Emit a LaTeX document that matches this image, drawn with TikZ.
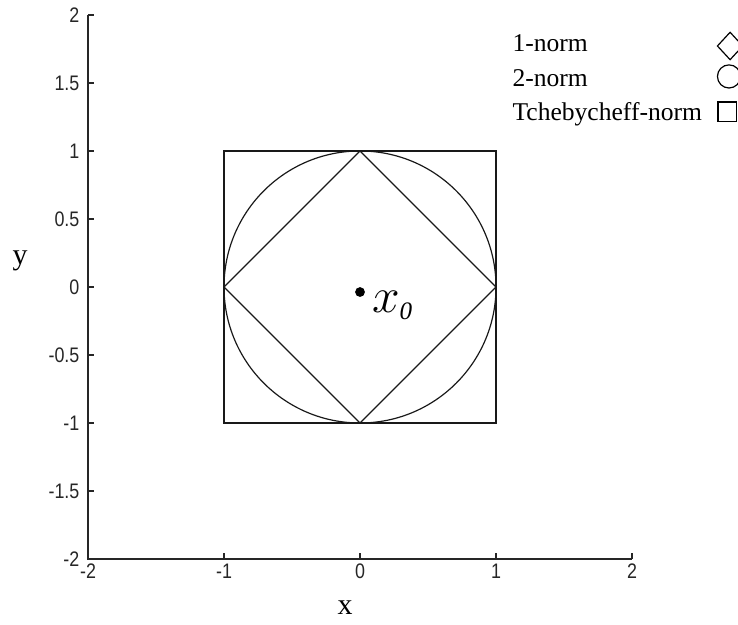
\documentclass[tikz,border=0pt]{standalone}
\usepackage{fontspec}
\setmainfont{Liberation Serif}
\newfontfamily\ticksans[FakeStretch=0.85]{Liberation Sans}
\usetikzlibrary{positioning, shapes.geometric}

\tikzset{
  axisline/.style={line width=0.8pt, black!85},
  normline/.style={line width=0.5pt, black!90},
  ticklab/.style={font=\ticksans\fontsize{8.8}{9}\selectfont, inner sep=0pt, text=black!85},
  legtext/.style={font=\fontsize{10.7}{12}\selectfont, anchor=base west, inner sep=0pt},
  legmark/.style={draw, line width=0.5pt, inner sep=0pt},
  axlab/.style={font=\fontsize{12.5}{14}\selectfont, inner sep=0pt}
}

\begin{document}
\begin{tikzpicture}[x=2cm, y=2cm]
    \useasboundingbox (-2.647,-2.478) rectangle (2.779,2.110);

    % axes
    \draw[axisline] (-2,2) -- (-2,-2) -- (2,-2);
    \foreach \v in {-1,0,1,2} {
      \draw[axisline] (\v,-2) -- (\v,-1.956);
    }
    \foreach \v in {-1.5,-1,-0.5,0,0.5,1,1.5,2} {
      \draw[axisline] (-2,\v) -- (-1.956,\v);
    }
    \foreach \v [count=\k] in {-2,-1,0,1,2}
      \node[ticklab] (xt\k) at (\v,-2.092) {\v};
    \foreach \v [count=\k] in {-2,-1.5,-1,-0.5,0,0.5,1,1.5,2}
      \node[ticklab, anchor=east] (yt\k) at (-2.06,\v) {\v};

    \node[axlab] (ylab) at (-2.5,0.19) {y};
    \node[axlab] (xlab) at (-0.11,-2.36) {x};

    % the three unit balls
    \draw[normline] (-1,-1) rectangle (1,1);
    \draw[normline] (0,0) circle (1);
    \draw[normline] (1,0) -- (0,1) -- (-1,0) -- (0,-1) -- cycle;

    \fill (0,-0.037) circle (0.036);
    \node[anchor=base west, inner sep=0pt, font=\fontsize{21}{24}\selectfont] (x0) at (0.085,-0.184)
      {$x_{\scriptscriptstyle\mathit{0}}$};

    % legend
    \node[legtext] (leg1) at (1.118,1.728) {1-norm};
    \node[legtext] (leg2) at (1.118,1.471) {2-norm};
    \node[legtext] (leg3) at (1.118,1.221) {Tchebycheff-norm};
    \node[legmark, diamond, minimum width=0.38cm, minimum height=0.41cm] (mk1) at (2.721,1.772) {};
    \node[legmark, circle, minimum size=0.34cm] (mk2) at (2.713,1.548) {};
    \node[legmark, rectangle, minimum width=0.27cm, minimum height=0.29cm] (mk3) at (2.699,1.287) {};
\end{tikzpicture}
\end{document}
